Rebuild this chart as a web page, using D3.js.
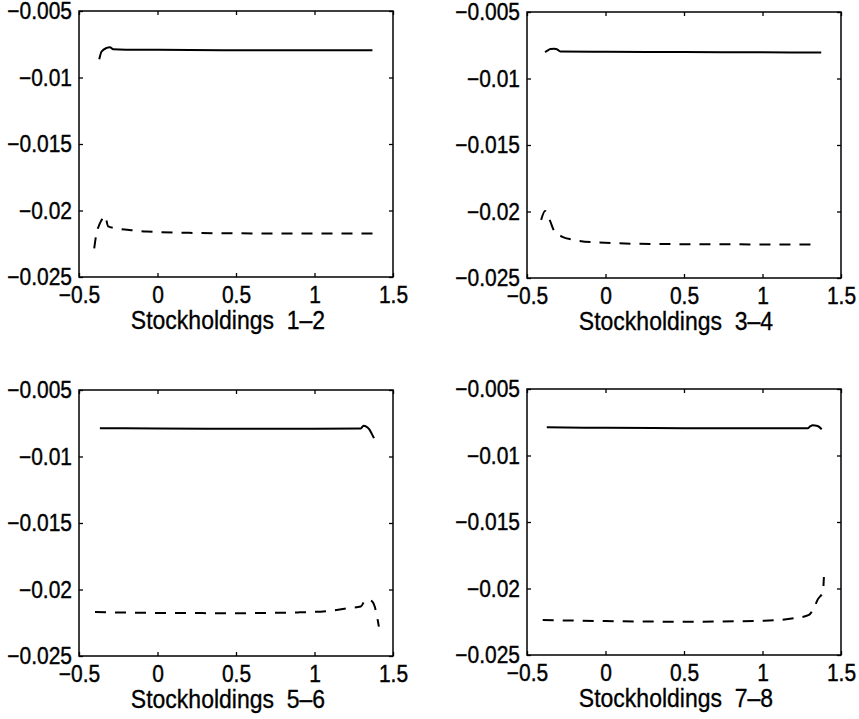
<!DOCTYPE html>
<html>
<head>
<meta charset="utf-8">
<script src="https://cdn.jsdelivr.net/npm/d3@7"></script>
<style>
  body { margin: 0; background: #fff; }
  text { font-family: "Liberation Sans", Arial, Helvetica, sans-serif; fill: #000; }
</style>
</head>
<body>
<svg width="859" height="719"></svg>
<script>
// data
var xTicks = [-0.5, 0, 0.5, 1, 1.5],
    xTickLabels = ["\u22120.5", "0", "0.5", "1", "1.5"],
    yTicks = [-0.025, -0.02, -0.015, -0.01, -0.005],
    yTickLabels = ["\u22120.025", "\u22120.02", "\u22120.015", "\u22120.01", "\u22120.005"];

var titles = ["Stockholdings\u00a0 1\u20132", "Stockholdings\u00a0 3\u20134", "Stockholdings\u00a0 5\u20136", "Stockholdings\u00a0 7\u20138"];

var solid12 = [[-0.371,-0.00862],[-0.356,-0.00805],[-0.324,-0.00777],[-0.303,-0.00772],[-0.282,-0.00787],
               [-0.2,-0.00791],[0.0,-0.00792],[0.5,-0.00795],[1.0,-0.00795],[1.369,-0.00796]];
var dashed12 = [[-0.403,-0.02285],[-0.39,-0.0218],[-0.375,-0.0212],[-0.36,-0.0208],[-0.335,-0.0204],
                [-0.314,-0.0212],[-0.271,-0.02133],[-0.15,-0.0215],[-0.07,-0.02158],[0.2,-0.02168],
                [0.6,-0.02172],[1.0,-0.02172],[1.405,-0.02172]];

var solid34 = [[-0.385,-0.00802],[-0.37,-0.0079],[-0.35,-0.00779],[-0.325,-0.00777],[-0.31,-0.0078],
               [-0.288,-0.00797],[0.0,-0.00799],[0.5,-0.00801],[1.0,-0.00803],[1.374,-0.00805]];
var dashed34 = [[-0.41,-0.02063],[-0.385,-0.01996],[-0.353,-0.02071],[-0.327,-0.02146],[-0.278,-0.02188],
                [-0.203,-0.02213],[-0.053,-0.02233],[0.374,-0.02245],[1.357,-0.02248]];

var solid56 = [[-0.367,-0.00787],[0.0,-0.0079],[0.5,-0.00792],[1.0,-0.00792],[1.295,-0.00789],
               [1.312,-0.00769],[1.33,-0.00775],[1.348,-0.00794],[1.365,-0.0083],[1.379,-0.00862]];
var dashed56 = [[-0.398,-0.0217],[0.0,-0.02176],[0.5,-0.02178],[0.9,-0.02172],[1.115,-0.02158],
                [1.22,-0.0214],[1.295,-0.02128],[1.327,-0.02077],[1.35,-0.0208],[1.368,-0.0209],
                [1.384,-0.0213],[1.394,-0.02178],[1.41,-0.02279]];

var solid78 = [[-0.374,-0.00788],[0.0,-0.00792],[0.5,-0.00795],[1.0,-0.00796],[1.287,-0.00796],
               [1.305,-0.0078],[1.319,-0.00773],[1.351,-0.00778],[1.377,-0.00803]];
var dashed78 = [[-0.40,-0.02237],[0.0,-0.02245],[0.5,-0.0225],[1.01,-0.02242],[1.22,-0.0222],
                [1.296,-0.02199],[1.327,-0.02147],[1.353,-0.0208],[1.385,-0.02026],[1.391,-0.01914]];
// end of data

var panels = [
  {title: titles[0], solid: solid12, dashed: dashed12, left: 79,  top: 11},
  {title: titles[1], solid: solid34, dashed: dashed34, left: 527, top: 12},
  {title: titles[2], solid: solid56, dashed: dashed56, left: 79,  top: 390},
  {title: titles[3], solid: solid78, dashed: dashed78, left: 527, top: 389}
];

var width = 314, height = 266, tickLen = 4, stretch = 1.12;
var svg = d3.select("svg");

panels.forEach(function(p) {
  var g = svg.append("g").attr("transform", "translate(" + p.left + "," + p.top + ")");

  var x = d3.scaleLinear().domain([-0.5, 1.5]).range([0, width]);
  var y = d3.scaleLinear().domain([-0.025, -0.005]).range([height, 0]);

  // inward ticks on all four sides, matlab style
  g.append("g").attr("transform", "translate(0," + height + ")")
    .call(d3.axisBottom(x).tickValues(xTicks).tickSize(-tickLen).tickPadding(8)
      .tickFormat(function(d, i) { return xTickLabels[i]; }));
  g.append("g")
    .call(d3.axisTop(x).tickValues(xTicks).tickSize(-tickLen).tickFormat(""));
  g.append("g")
    .call(d3.axisLeft(y).tickValues(yTicks).tickSize(-tickLen).tickPadding(7)
      .tickFormat(function(d, i) { return yTickLabels[i]; }));
  g.append("g").attr("transform", "translate(" + width + ",0)")
    .call(d3.axisRight(y).tickValues(yTicks).tickSize(-tickLen).tickFormat(""));

  g.selectAll(".domain").remove();
  g.selectAll(".tick line").attr("stroke", "#000").attr("stroke-width", 1.3);
  // the scanned fonts look a bit taller and heavier
  g.selectAll(".tick text")
    .style("font-size", "21px")
    .attr("fill", "#000")
    .attr("stroke", "#000").attr("stroke-width", 0.35)
    .attr("transform", "scale(1," + stretch + ")");

  g.append("rect")
    .attr("width", width).attr("height", height)
    .attr("fill", "none").attr("stroke", "#000").attr("stroke-width", 1.5);

  var line = d3.line()
    .x(function(d) { return x(d[0]); })
    .y(function(d) { return y(d[1]); })
    .curve(d3.curveMonotoneX);

  g.append("path").datum(p.solid)
    .attr("d", line).attr("fill", "none")
    .attr("stroke", "#000").attr("stroke-width", 2);

  g.append("path").datum(p.dashed)
    .attr("d", line).attr("fill", "none")
    .attr("stroke", "#000").attr("stroke-width", 2)
    .attr("stroke-dasharray", "11,9");

  g.append("g")
    .attr("transform", "translate(" + (width / 2 - 8) + "," + (height + 52) + ") scale(1," + stretch + ")")
    .append("text")
      .attr("text-anchor", "middle")
      .attr("stroke", "#000").attr("stroke-width", 0.3)
      .style("font-size", "23px")
      .text(p.title);
});
</script>
</body>
</html>
